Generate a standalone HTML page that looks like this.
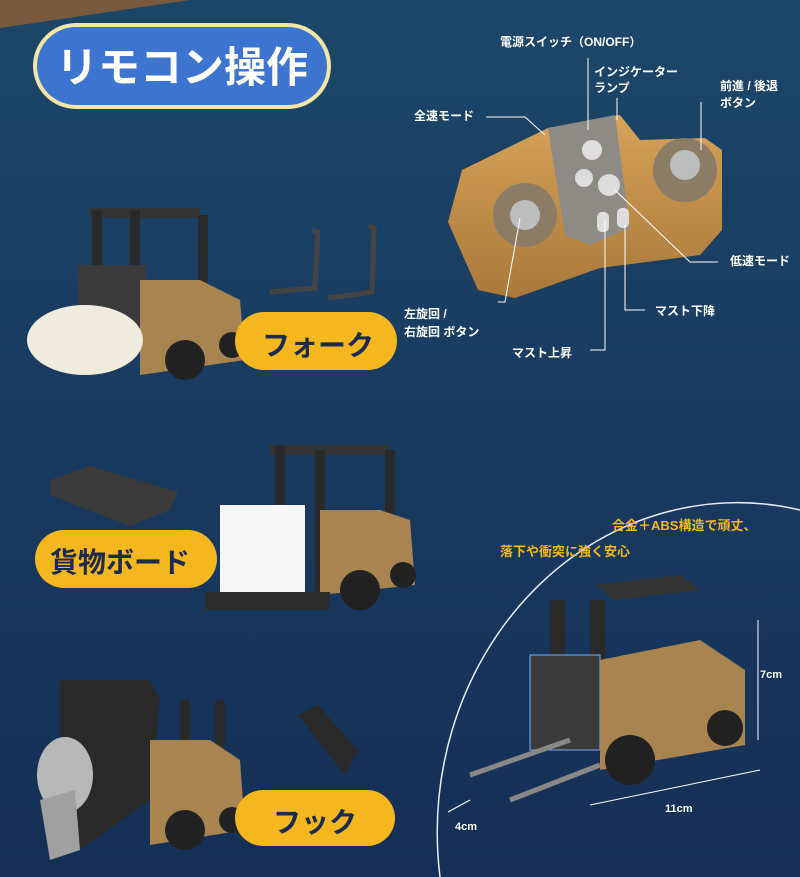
<!DOCTYPE html>
<html><head><meta charset="utf-8"><style>
body{margin:0;width:800px;height:877px;overflow:hidden;background:#183c62;font-family:"Liberation Sans","Noto Sans CJK JP",sans-serif}
svg{position:absolute;left:0;top:0}
text{font-family:"Liberation Sans","Noto Sans CJK JP",sans-serif;font-weight:bold}
</style></head><body>
<svg width="800" height="877" viewBox="0 0 800 877">
<defs>
<linearGradient id="bg" x1="0" y1="0" x2="0" y2="1"><stop offset="0" stop-color="#1c4668"/><stop offset="1" stop-color="#152f55"/></linearGradient>
<linearGradient id="tan" x1="0" y1="0" x2="0" y2="1"><stop offset="0" stop-color="#d6a35a"/><stop offset="1" stop-color="#a9783a"/></linearGradient>
</defs>
<rect width="800" height="877" fill="url(#bg)"/>
<polygon points="0,0 190,0 0,28" fill="#7a5a3e"/>
<!-- title -->
<rect x="33" y="23" width="298" height="86" rx="43" fill="#f2e6a6"/>
<rect x="37" y="27" width="290" height="78" rx="39" fill="#3c74cf"/>
<text x="182" y="82" font-size="42" fill="#fff" text-anchor="middle">リモコン操作</text>
<!-- remote -->
<polygon points="462,170 548,128 620,115 640,140 705,138 722,150 722,230 700,255 600,268 515,298 478,290 448,222" fill="url(#tan)"/>
<polygon points="548,128 615,115 630,228 590,245 565,235" fill="#8e8a85"/>
<circle cx="525" cy="215" r="32" fill="#8c7c66"/><circle cx="525" cy="215" r="15" fill="#bdbdbd"/>
<circle cx="685" cy="170" r="32" fill="#8c7c66"/><circle cx="685" cy="165" r="15" fill="#bdbdbd"/>
<circle cx="592" cy="150" r="10" fill="#ddd"/><circle cx="584" cy="178" r="9" fill="#ddd"/><circle cx="609" cy="185" r="11" fill="#ddd"/>
<rect x="597" y="212" width="12" height="20" rx="5" fill="#ddd"/><rect x="617" y="208" width="12" height="20" rx="5" fill="#ddd"/>
<g stroke="#fff" stroke-width="1" fill="none">
<path d="M486,117 H525 L545,135"/><path d="M588,58 V130"/><path d="M617,98 V120"/>
<path d="M701,102 V150"/><path d="M615,190 L690,262 H718"/>
<path d="M625,225 V310 H645"/><path d="M605,220 V350 H590"/><path d="M498,302 H505 L520,218"/>
</g>
<g fill="#fff" font-size="12">
<text x="500" y="46">電源スイッチ（ON/OFF）</text>
<text x="594" y="76">インジケーター</text><text x="594" y="92">ランプ</text>
<text x="414" y="120">全速モード</text>
<text x="720" y="90">前進 / 後退</text><text x="720" y="107">ボタン</text>
<text x="730" y="265">低速モード</text>
<text x="655" y="315">マスト下降</text>
<text x="404" y="318">左旋回 /</text><text x="404" y="336">右旋回 ボタン</text>
<text x="512" y="357">マスト上昇</text>
</g>
<!-- forklift 1 -->
<rect x="90" y="208" width="110" height="10" fill="#333"/>
<rect x="92" y="210" width="10" height="120" fill="#2a2a2a"/><rect x="130" y="210" width="10" height="120" fill="#2a2a2a"/>
<rect x="198" y="215" width="10" height="80" fill="#2a2a2a"/>
<rect x="78" y="265" width="68" height="65" fill="#3a3a3a"/>
<polygon points="140,280 200,280 240,300 245,360 140,375" fill="#a88550"/>
<circle cx="185" cy="360" r="20" fill="#222"/><circle cx="232" cy="345" r="13" fill="#222"/>
<ellipse cx="85" cy="340" rx="58" ry="35" fill="#f0ecdd"/>
<rect x="235" y="312" width="162" height="58" rx="29" fill="#f5b71e"/>
<text x="318" y="355" font-size="28" fill="#1c2a50" text-anchor="middle">フォーク</text>
<path d="M312,230 L318,232 L315,288 L270,292" stroke="#444" stroke-width="5" fill="none"/>
<path d="M368,226 L374,228 L372,292 L328,298" stroke="#444" stroke-width="5" fill="none"/>
<!-- forklift 2 -->
<rect x="270" y="445" width="120" height="10" fill="#333"/>
<rect x="275" y="445" width="10" height="150" fill="#2a2a2a"/><rect x="315" y="450" width="10" height="150" fill="#2a2a2a"/>
<rect x="385" y="450" width="10" height="70" fill="#2a2a2a"/>
<polygon points="320,510 380,510 410,520 415,585 320,595" fill="#a88550"/>
<circle cx="360" cy="590" r="20" fill="#222"/><circle cx="403" cy="575" r="13" fill="#222"/>
<rect x="220" y="505" width="85" height="95" fill="#f6f6f6"/>
<rect x="205" y="592" width="125" height="18" fill="#2c2c2c"/>
<polygon points="50,480 90,466 178,492 170,510 130,526 50,495" fill="#3a3a3a"/>
<rect x="35" y="530" width="182" height="58" rx="29" fill="#f5b71e"/>
<text x="120" y="572" font-size="28" fill="#1c2a50" text-anchor="middle">貨物ボード</text>
<!-- forklift 3 -->
<polygon points="60,680 150,680 160,700 150,800 80,850 60,800" fill="#2a2a2a"/>
<rect x="180" y="700" width="10" height="100" fill="#2a2a2a"/>
<rect x="215" y="700" width="10" height="50" fill="#2a2a2a"/>
<polygon points="150,740 210,740 240,760 245,830 150,845" fill="#a88550"/>
<circle cx="185" cy="830" r="20" fill="#222"/><circle cx="232" cy="820" r="13" fill="#222"/>
<ellipse cx="65" cy="775" rx="28" ry="38" fill="#b8b8b8"/>
<polygon points="40,800 75,790 80,850 50,860" fill="#a0a0a0"/>
<rect x="235" y="790" width="160" height="56" rx="28" fill="#f5b71e"/>
<text x="315" y="832" font-size="28" fill="#1c2a50" text-anchor="middle">フック</text>
<polygon points="298,715 318,705 358,750 345,775" fill="#2a2a2a"/>
<!-- circle section -->
<path d="M440,877 A300,330 0 0 1 800,510" stroke="#e8eefc" stroke-width="1.5" fill="none"/>
<text x="612" y="530" font-size="13" fill="#f5b71e">合金＋ABS構造で頑丈、</text>
<text x="500" y="556" font-size="13" fill="#f5b71e">落下や衝突に強く安心</text>
<polygon points="595,585 680,575 700,590 615,600" fill="#333"/>
<rect x="550" y="600" width="15" height="130" fill="#2a2a2a"/><rect x="590" y="600" width="15" height="130" fill="#2a2a2a"/>
<rect x="530" y="655" width="70" height="95" fill="#3a3a3a" stroke="#6fb2ff" stroke-width="1"/>
<polygon points="600,660 700,640 745,670 745,745 600,770" fill="#a88550"/>
<circle cx="630" cy="760" r="25" fill="#222"/><circle cx="725" cy="728" r="18" fill="#222"/>
<path d="M470,775 L570,740 M510,800 L600,765" stroke="#888" stroke-width="5"/>
<g stroke="#fff" stroke-width="1"><path d="M758,620 V740"/><path d="M590,805 L760,770"/><path d="M448,812 L470,800"/></g>
<g fill="#fff" font-size="11"><text x="760" y="678">7cm</text><text x="665" y="812">11cm</text><text x="455" y="830">4cm</text></g>
</svg>
</body></html>
